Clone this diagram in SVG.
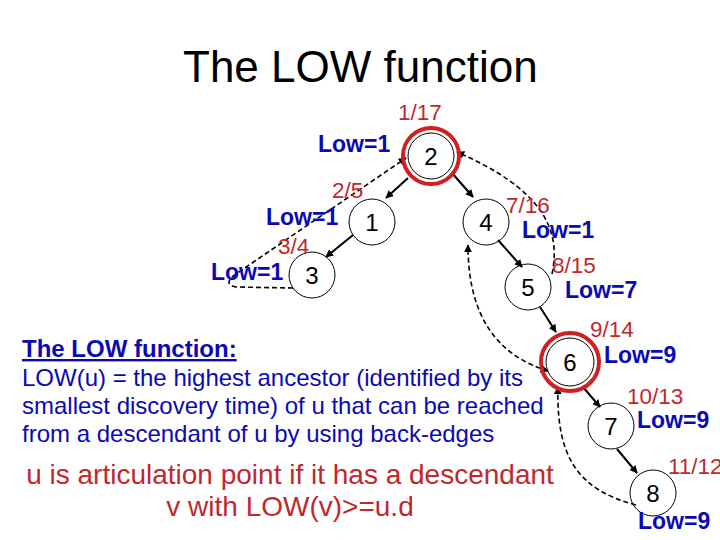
<svg xmlns="http://www.w3.org/2000/svg" width="720" height="540" viewBox="0 0 720 540">
<defs>
<marker id="ah" viewBox="0 0 10 10" refX="9" refY="5" markerWidth="8" markerHeight="8" markerUnits="userSpaceOnUse" orient="auto-start-reverse">
<path d="M0,0 L10,5 L0,10 z" fill="#000"/>
</marker>
<style>
.node circle.n{fill:none;stroke:#000;stroke-width:1}
.node circle.r{fill:none;stroke:#d02020;stroke-width:4}
.node text{font-family:"Liberation Sans",Arial,sans-serif;font-size:24px;fill:#000;text-anchor:middle}
.d{font-family:"Liberation Sans",Arial,sans-serif;font-size:22.5px;fill:#c0282d}
.low{font-family:"Liberation Sans",Arial,sans-serif;font-size:23px;font-weight:bold;fill:#0a0ab4}
.tree{stroke:#000;stroke-width:2;fill:none;marker-end:url(#ah)}
.back{stroke:#000;stroke-width:1.6;fill:none;stroke-dasharray:5,3}
.title{font-family:"Liberation Sans",Arial,sans-serif;font-size:44px;fill:#000}
.blue{font-family:"Liberation Sans",Arial,sans-serif;font-size:24px;fill:#0a0ab4}
.red{font-family:"Liberation Sans",Arial,sans-serif;font-size:28px;fill:#c0282d;text-anchor:middle}
</style>
</defs>
<rect width="720" height="540" fill="#fff"/>
<text class="title" x="183" y="82">The LOW function</text>

<g id="connectors">
<line class="tree" x1="408" y1="178" x2="386" y2="198"/>
<line class="tree" x1="452" y1="173" x2="473" y2="197"/>
<line class="tree" x1="353" y1="235" x2="326" y2="257"/>
<line class="tree" x1="498" y1="240" x2="522" y2="267"/>
<line class="tree" x1="540" y1="307" x2="556" y2="332"/>
<line class="tree" x1="583" y1="387" x2="600" y2="407"/>
<line class="tree" x1="617" y1="449" x2="637" y2="473"/>
<path class="back" d="M293,288 L236,287 Q222,284 236,274 L406,158" marker-end="url(#ah)"/>
<path class="back" d="M552,274 C562,228 540,188 457,152" marker-end="url(#ah)"/>
<path class="back" d="M548,371 C500,356 468,320 468,245" marker-start="url(#ah)" marker-end="url(#ah)"/>
<path class="back" d="M636,505 C580,490 556,460 558,387" marker-end="url(#ah)"/>
</g>

<g id="node2" class="node"><circle class="n" cx="431" cy="156" r="23"/><circle class="r" cx="431" cy="156" r="28"/><text x="431" y="165">2</text></g>
<g id="node1" class="node"><circle class="n" cx="372" cy="222" r="23"/><text x="372" y="231">1</text></g>
<g id="node3" class="node"><circle class="n" cx="312" cy="275" r="23"/><text x="312" y="284">3</text></g>
<g id="node4" class="node"><circle class="n" cx="486" cy="222" r="23"/><text x="486" y="231">4</text></g>
<g id="node5" class="node"><circle class="n" cx="528" cy="287" r="23"/><text x="528" y="296">5</text></g>
<g id="node6" class="node"><circle class="n" cx="570" cy="362" r="24"/><circle class="r" cx="570" cy="362" r="29"/><text x="570" y="371">6</text></g>
<g id="node7" class="node"><circle class="n" cx="611" cy="426" r="23"/><text x="611" y="435">7</text></g>
<g id="node8" class="node"><circle class="n" cx="653" cy="493" r="23"/><text x="653" y="502">8</text></g>

<g id="labels">
<text class="d" x="398" y="120">1/17</text>
<text class="low" x="318" y="152">Low=1</text>
<text class="d" x="332" y="198">2/5</text>
<text class="low" x="266" y="225">Low=1</text>
<text class="d" x="278" y="254">3/4</text>
<text class="low" x="211" y="280">Low=1</text>
<text class="d" x="506" y="213">7/16</text>
<text class="low" x="522" y="238">Low=1</text>
<text class="d" x="552" y="273">8/15</text>
<text class="low" x="565" y="298">Low=7</text>
<text class="d" x="590" y="337">9/14</text>
<text class="low" x="604" y="363">Low=9</text>
<text class="d" x="627" y="404">10/13</text>
<text class="low" x="637" y="428">Low=9</text>
<text class="d" x="668" y="474">11/12</text>
<text class="low" x="638" y="529">Low=9</text>
</g>

<g id="text">
<text class="blue" x="22" y="357" font-weight="bold" text-decoration="underline">The LOW function:</text>
<text class="blue" x="22" y="386">LOW(u) = the highest ancestor (identified by its</text>
<text class="blue" x="22" y="414">smallest discovery time) of u that can be reached</text>
<text class="blue" x="22" y="442">from a  descendant of u by using back-edges</text>
<text class="red" x="290" y="484">u is articulation point if it has a descendant</text>
<text class="red" x="290" y="516">v with LOW(v)&gt;=u.d</text>
</g>
</svg>
